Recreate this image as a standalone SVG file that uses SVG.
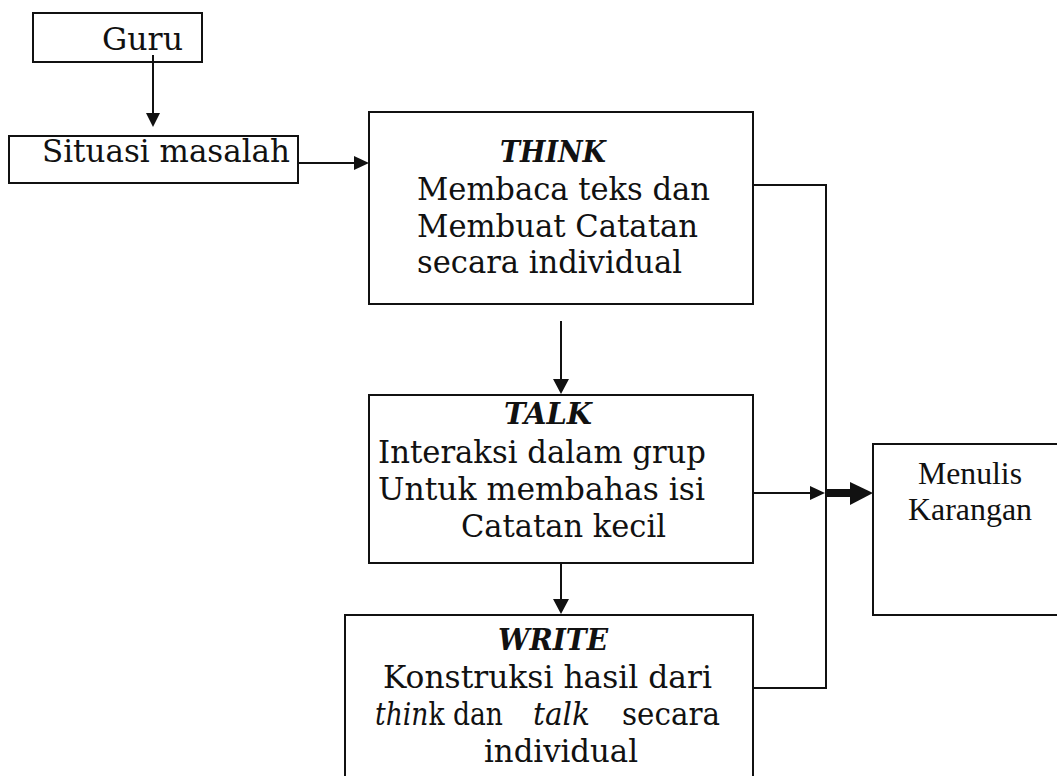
<svg xmlns="http://www.w3.org/2000/svg" width="1057" height="776" viewBox="0 0 1057 776">
<style>
.box{fill:#fff;stroke:#111;stroke-width:2}
.ln{fill:none;stroke:#111;stroke-width:2}
.hd{fill:#111}
.t{font-family:"DejaVu Serif",serif;font-size:31px;fill:#111}
.b{font-family:"DejaVu Serif",serif;font-size:29px;font-weight:bold;font-style:italic;fill:#111}
.i{font-style:italic}
.tm{font-family:"Liberation Serif","Times New Roman",serif;font-size:32px;fill:#111}
</style>
<rect width="1057" height="776" fill="#fff"/>
<g id="guru">
<rect class="box" x="33" y="13" width="169" height="49"/>
<text class="t" x="102" y="50" textLength="81" lengthAdjust="spacingAndGlyphs">Guru</text>
</g>
<g id="situasi">
<rect class="box" x="9" y="136" width="289" height="47"/>
<text class="t" x="42" y="162" textLength="248" lengthAdjust="spacingAndGlyphs">Situasi masalah</text>
</g>
<g id="think">
<rect class="box" x="369" y="112" width="384" height="192"/>
<text class="b" x="500" y="162" textLength="106" lengthAdjust="spacingAndGlyphs">THINK</text>
<text class="t" x="417" y="200" textLength="293" lengthAdjust="spacingAndGlyphs">Membaca teks dan</text>
<text class="t" x="417" y="237" textLength="281" lengthAdjust="spacingAndGlyphs">Membuat Catatan</text>
<text class="t" x="417" y="273" textLength="265" lengthAdjust="spacingAndGlyphs">secara individual</text>
</g>
<g id="talk">
<rect class="box" x="369" y="395" width="384" height="168"/>
<text class="b" x="504" y="424" textLength="88" lengthAdjust="spacingAndGlyphs">TALK</text>
<text class="t" x="378" y="463" textLength="328" lengthAdjust="spacingAndGlyphs">Interaksi dalam grup</text>
<text class="t" x="378" y="500" textLength="327" lengthAdjust="spacingAndGlyphs">Untuk membahas isi</text>
<text class="t" x="461" y="537" textLength="205" lengthAdjust="spacingAndGlyphs">Catatan kecil</text>
</g>
<g id="write">
<rect class="box" x="345" y="615" width="408" height="175"/>
<text class="b" x="498" y="650" textLength="110" lengthAdjust="spacingAndGlyphs">WRITE</text>
<text class="t" x="383" y="688" textLength="329" lengthAdjust="spacingAndGlyphs">Konstruksi hasil dari</text>
<text class="t" x="375" y="725" textLength="128" lengthAdjust="spacingAndGlyphs"><tspan class="i">thin</tspan>k dan</text>
<text class="t i" x="533" y="725" textLength="57" lengthAdjust="spacingAndGlyphs">talk</text>
<text class="t" x="622" y="725" textLength="98" lengthAdjust="spacingAndGlyphs">secara</text>
<text class="t" x="484" y="762" textLength="154" lengthAdjust="spacingAndGlyphs">individual</text>
</g>
<g id="menulis">
<rect class="box" x="873" y="444" width="200" height="171"/>
<text class="tm" x="918" y="484" textLength="104" lengthAdjust="spacingAndGlyphs">Menulis</text>
<text class="tm" x="908" y="520" textLength="124" lengthAdjust="spacingAndGlyphs">Karangan</text>
</g>
<g id="connectors">
<line class="ln" x1="153" y1="55" x2="153" y2="114"/>
<polygon class="hd" points="146,113 160,113 153,127"/>
<line class="ln" x1="298" y1="163" x2="355" y2="163"/>
<polygon class="hd" points="354,156 354,170 369,163"/>
<line class="ln" x1="561" y1="321" x2="561" y2="380"/>
<polygon class="hd" points="553,379 569,379 561,394"/>
<line class="ln" x1="561" y1="563" x2="561" y2="600"/>
<polygon class="hd" points="553,599 569,599 561,614"/>
<line class="ln" x1="753" y1="493" x2="811" y2="493"/>
<polygon class="hd" points="810,486 810,500 825,493"/>
<rect class="hd" x="826" y="489" width="25" height="8"/>
<polygon class="hd" points="850,482 850,505 873,493"/>
<polyline class="ln" points="753,185 826,185 826,688 753,688"/>
</g>
</svg>
